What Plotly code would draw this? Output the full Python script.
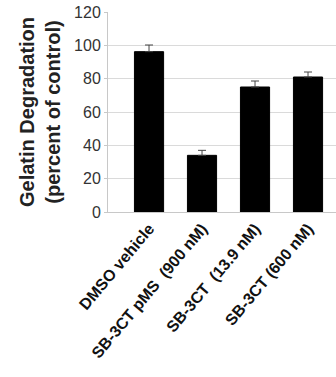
import plotly.graph_objects as go

categories = ["DMSO vehicle", "SB-3CT pMS  (900 nM)", "SB-3CT  (13.9 nM)", "SB-3CT (600 nM)"]
values = [96.2, 34.0, 75.0, 81.0]
errors = [4.0, 3.0, 3.6, 3.0]
errors_minus = [0, 0, 0, 0]
y_ticks = [0, 20, 40, 60, 80, 100, 120]

FONT = "Arial, Liberation Sans, sans-serif"

fig = go.Figure(go.Bar(
    x=categories,
    y=values,
    marker=dict(color="black", line=dict(color="black", width=1)),
    error_y=dict(type="data", array=errors, arrayminus=errors_minus, symmetric=False,
                 color="#444444", thickness=1, width=4),
))

fig.update_layout(
    width=336, height=377,
    margin=dict(l=108, r=0, t=12, b=165),
    plot_bgcolor="white", paper_bgcolor="white",
    bargap=0.45,
    showlegend=False,
    font=dict(family=FONT, color="#222222"),
)
fig.update_xaxes(
    type="category",
    range=[-0.774, 3.528],
    tickangle=-50,
    automargin=False,
    tickfont=dict(family=FONT, size=16, color="#111111", weight="bold"),
    showline=True, linecolor="#c8c8c8", linewidth=1,
    ticks="", showgrid=False,
)
fig.update_yaxes(
    range=[0, 120],
    tickvals=y_ticks,
    automargin=False,
    tickfont=dict(family=FONT, size=16, color="#333333"),
    showgrid=True, gridcolor="#dadada", gridwidth=1,
    showline=True, linecolor="#c8c8c8", linewidth=1,
    ticks="outside", ticklen=3, tickcolor="#c8c8c8",
    zeroline=False,
    title=dict(text="Gelatin Degradation<br>(percent of control)",
               font=dict(family=FONT, size=20, color="#222222", weight="bold"),
               standoff=8),
)

fig.write_html("out.html", config={"displayModeBar": False},
               post_script="document.body.style.margin='0';")
